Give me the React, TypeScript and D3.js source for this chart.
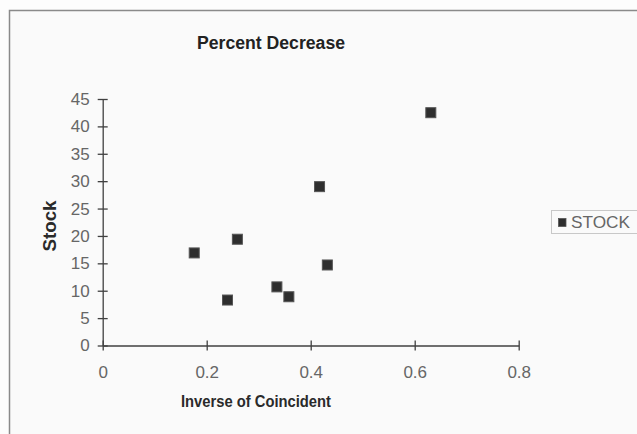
import React, { useEffect, useRef } from 'react';
import * as d3 from 'd3';

const inverseCoincident = [0.176, 0.259, 0.24, 0.335, 0.358, 0.417, 0.432, 0.631];
const stock = [16.9, 19.4, 8.3, 10.7, 8.9, 29.0, 14.7, 42.5];
const xTicks = [0, 0.2, 0.4, 0.6, 0.8];
const yTicks = [0, 5, 10, 15, 20, 25, 30, 35, 40, 45];
const seriesName = 'STOCK';

const width = 637;
const height = 434;

export default function App() {
  const ref = useRef<SVGSVGElement>(null);

  useEffect(() => {
    const svg = d3.select(ref.current);
    svg.selectAll('*').remove();

    const x = d3.scaleLinear().domain([0, 0.8]).range([102.7, 518.7]);
    const y = d3.scaleLinear().domain([0, 45]).range([345.5, 99]);

    svg.append('rect').attr('width', width).attr('height', height).attr('fill', '#fdfdfd');
    // outer chart frame (right and bottom run off the picture)
    svg
      .append('rect')
      .attr('x', 9.5)
      .attr('y', 10.5)
      .attr('width', 700)
      .attr('height', 500)
      .attr('fill', '#fafafa')
      .attr('stroke', '#8a8a8a')
      .attr('stroke-width', 1.5);

    svg
      .append('text')
      .attr('x', 271)
      .attr('y', 49)
      .attr('text-anchor', 'middle')
      .attr('font-family', 'Liberation Sans, Arial, sans-serif')
      .attr('font-weight', 'bold')
      .attr('font-size', 18)
      .attr('textLength', 148)
      .attr('lengthAdjust', 'spacingAndGlyphs')
      .attr('fill', '#222')
      .text('Percent Decrease');

    const xAxis = d3
      .axisBottom(x)
      .tickValues(xTicks)
      .tickSizeInner(5)
      .tickSizeOuter(0)
      .tickPadding(15)
      .tickFormat(d => String(d));
    const gx = svg.append('g').attr('transform', `translate(0, ${y(0)})`).call(xAxis);
    gx.selectAll('.tick line').attr('y1', -5);

    const yAxis = d3
      .axisLeft(y)
      .tickValues(yTicks)
      .tickSizeInner(5)
      .tickSizeOuter(0)
      .tickPadding(8)
      .tickFormat(d => String(d));
    const gy = svg.append('g').attr('transform', `translate(${x(0)}, 0)`).call(yAxis);
    gy.selectAll('.tick line').attr('x1', 5);

    [gx, gy].forEach(g => {
      g.selectAll('path, line').attr('stroke', '#404040').attr('stroke-width', 1.3);
      g.selectAll('text')
        .attr('fill', '#666')
        .attr('font-family', 'Liberation Sans, Arial, sans-serif')
        .attr('font-size', 17);
    });

    svg
      .append('text')
      .attr('x', 256)
      .attr('y', 407)
      .attr('text-anchor', 'middle')
      .attr('font-family', 'Liberation Sans, Arial, sans-serif')
      .attr('font-weight', 'bold')
      .attr('font-size', 17)
      .attr('textLength', 150)
      .attr('lengthAdjust', 'spacingAndGlyphs')
      .attr('fill', '#2a2a2a')
      .text('Inverse of Coincident');

    svg
      .append('text')
      .attr('transform', 'translate(55.5, 226) rotate(-90)')
      .attr('text-anchor', 'middle')
      .attr('font-family', 'Liberation Sans, Arial, sans-serif')
      .attr('font-weight', 'bold')
      .attr('font-size', 18)
      .attr('textLength', 51)
      .attr('lengthAdjust', 'spacingAndGlyphs')
      .attr('fill', '#2a2a2a')
      .text('Stock');

    const pts = inverseCoincident.map((v, i) => ({ x: v, y: stock[i] }));
    const size = 10;
    svg
      .append('g')
      .selectAll('rect')
      .data(pts)
      .enter()
      .append('rect')
      .attr('x', d => x(d.x) - size / 2)
      .attr('y', d => y(d.y) - size / 2)
      .attr('width', size)
      .attr('height', size)
      .attr('fill', '#2e2e2e')
      .attr('stroke', '#555')
      .attr('stroke-width', 1);

    // legend
    const lg = svg.append('g');
    lg.append('rect')
      .attr('x', 551.5)
      .attr('y', 210.5)
      .attr('width', 100)
      .attr('height', 23)
      .attr('fill', '#fafafa')
      .attr('stroke', '#c8c8c8');
    lg.append('rect')
      .attr('x', 558.5)
      .attr('y', 218.5)
      .attr('width', 7.5)
      .attr('height', 8)
      .attr('fill', '#2e2e2e')
      .attr('stroke', '#555')
      .attr('stroke-width', 0.8);
    lg.append('text')
      .attr('x', 571)
      .attr('y', 228)
      .attr('font-family', 'Liberation Sans, Arial, sans-serif')
      .attr('font-size', 17)
      .attr('textLength', 59)
      .attr('lengthAdjust', 'spacingAndGlyphs')
      .attr('fill', '#666')
      .text(seriesName);
  }, []);

  return (
    <svg
      ref={ref}
      width={width}
      height={height}
      style={{ position: 'absolute', left: 0, top: 0, display: 'block' }}
    />
  );
}
